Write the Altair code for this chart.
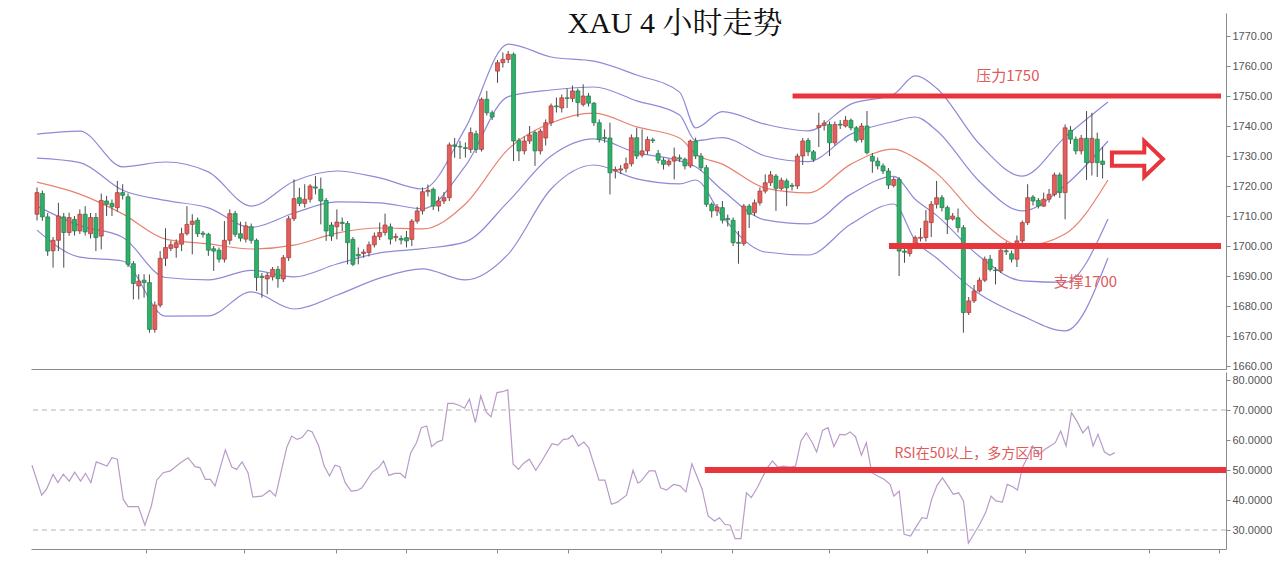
import altair as alt
import pandas as pd

# ---------------- candle data (4h XAU) ----------------
opens = [
    1710.6, 1717.5, 1709.7, 1698.4, 1701.9, 1709.7, 1704.5, 1708.9, 1705.0, 1710.6,
    1704.1, 1709.5, 1703.3, 1715.0, 1714.2, 1712.8, 1717.8, 1716.4, 1694.1, 1686.7,
    1688.6, 1687.8, 1672.2, 1680.3, 1695.9, 1699.2, 1699.5, 1700.6, 1704.1, 1707.2,
    1708.6, 1704.3, 1703.9, 1699.1, 1698.6, 1695.6, 1701.9, 1710.8, 1704.1, 1702.3,
    1706.4, 1701.9, 1689.9, 1689.0, 1689.7, 1692.2, 1689.0, 1696.1, 1709.1, 1716.1,
    1714.2, 1715.6, 1719.7, 1718.9, 1715.2, 1707.0, 1706.4, 1707.9, 1707.5, 1702.2,
    1697.2, 1697.5, 1697.8, 1700.4, 1703.1, 1704.5, 1706.4, 1702.8, 1702.5, 1702.8,
    1702.2, 1708.3, 1711.7, 1718.1, 1718.9, 1713.3, 1715.0, 1716.1, 1733.7, 1733.2,
    1732.8, 1732.2, 1737.4, 1732.2, 1748.9, 1744.4, 1758.3, 1761.1, 1762.2, 1763.9,
    1735.2, 1731.7, 1735.0, 1737.8, 1731.7, 1736.0, 1741.1, 1746.7, 1746.0, 1749.4,
    1749.2, 1751.7, 1747.2, 1750.0, 1747.6, 1741.1, 1736.2, 1736.0, 1725.0, 1725.3,
    1725.9, 1727.4, 1736.1, 1730.3, 1731.7, 1735.4, 1730.8, 1728.6, 1727.2, 1728.3,
    1729.4, 1728.9, 1726.7, 1735.0, 1730.0, 1726.1, 1713.9, 1711.7, 1712.8, 1709.2,
    1708.6, 1701.2, 1700.8, 1713.3, 1711.1, 1714.4, 1718.3, 1721.1, 1723.3, 1719.2,
    1721.7, 1720.2, 1720.0, 1730.0, 1735.2, 1731.4, 1739.5, 1740.2, 1740.5, 1734.4,
    1740.6, 1740.0, 1741.9, 1739.4, 1735.5, 1740.0, 1729.9, 1728.3, 1726.7, 1725.0,
    1720.2, 1722.2, 1698.3, 1697.5, 1700.6, 1702.6, 1702.8, 1707.8, 1713.9, 1716.1,
    1712.8, 1709.0, 1709.4, 1706.1, 1677.8, 1681.7, 1685.0, 1688.6, 1695.6, 1692.0,
    1691.7, 1698.4, 1697.4, 1695.6, 1701.7, 1707.8, 1716.3, 1715.2, 1713.3, 1715.6,
    1717.2, 1723.7, 1717.8, 1738.6, 1735.6, 1731.7, 1735.9, 1727.8, 1735.6, 1728.3,
]
highs = [
    1719.5, 1718.5, 1711.0, 1703.0, 1714.4, 1711.0, 1711.1, 1710.0, 1712.2, 1713.3,
    1711.0, 1711.0, 1717.5, 1716.7, 1715.5, 1721.7, 1720.6, 1717.5, 1695.0, 1690.6,
    1690.6, 1690.5, 1681.5, 1698.3, 1705.9, 1701.7, 1702.2, 1706.1, 1713.3, 1710.6,
    1709.5, 1705.0, 1704.4, 1700.0, 1699.5, 1708.3, 1712.2, 1711.7, 1708.1, 1708.1,
    1707.5, 1702.5, 1691.0, 1691.1, 1693.0, 1693.3, 1697.0, 1710.0, 1722.2, 1719.4,
    1720.6, 1720.6, 1723.3, 1722.8, 1716.0, 1708.0, 1712.2, 1709.5, 1708.3, 1703.0,
    1699.5, 1698.9, 1701.5, 1704.5, 1707.8, 1710.8, 1707.5, 1704.2, 1703.5, 1705.0,
    1709.0, 1713.0, 1719.5, 1720.5, 1719.5, 1716.5, 1718.0, 1734.5, 1736.0, 1735.0,
    1734.5, 1739.5, 1738.5, 1749.5, 1751.7, 1745.2, 1762.0, 1764.5, 1765.0, 1764.5,
    1736.0, 1736.5, 1740.0, 1738.5, 1739.0, 1742.2, 1747.5, 1749.5, 1750.5, 1752.5,
    1753.5, 1752.5, 1753.9, 1751.0, 1748.0, 1742.2, 1738.9, 1741.1, 1726.5, 1727.0,
    1729.5, 1737.2, 1739.4, 1738.9, 1736.5, 1736.1, 1732.0, 1729.5, 1729.0, 1732.8,
    1730.5, 1729.5, 1735.5, 1736.1, 1731.0, 1727.0, 1714.5, 1714.0, 1715.0, 1710.5,
    1709.5, 1705.0, 1714.0, 1714.0, 1715.5, 1719.5, 1723.9, 1725.0, 1724.0, 1722.8,
    1722.5, 1721.0, 1730.8, 1736.0, 1736.0, 1732.0, 1744.4, 1742.0, 1741.5, 1741.5,
    1742.0, 1743.3, 1742.5, 1740.0, 1741.0, 1745.0, 1731.0, 1729.5, 1727.5, 1726.0,
    1723.0, 1723.0, 1700.0, 1700.5, 1703.5, 1706.0, 1712.0, 1715.0, 1721.7, 1717.0,
    1713.5, 1711.0, 1712.5, 1707.0, 1683.0, 1687.0, 1689.5, 1696.5, 1697.0, 1693.0,
    1699.5, 1701.5, 1698.5, 1703.5, 1708.5, 1720.6, 1717.0, 1716.0, 1717.8, 1719.0,
    1724.5, 1724.5, 1740.5, 1740.0, 1736.5, 1737.0, 1745.0, 1744.4, 1737.8, 1733.0,
]
lows = [
    1708.5, 1708.4, 1696.7, 1692.8, 1698.3, 1692.8, 1703.4, 1703.5, 1704.0, 1703.5,
    1702.5, 1698.3, 1698.9, 1710.0, 1710.0, 1711.5, 1715.5, 1693.0, 1682.2, 1682.2,
    1682.8, 1671.1, 1671.1, 1679.5, 1693.3, 1698.3, 1696.1, 1698.3, 1703.5, 1697.2,
    1703.0, 1702.8, 1696.7, 1691.7, 1694.5, 1694.5, 1700.5, 1703.0, 1701.5, 1701.2,
    1700.8, 1685.0, 1682.8, 1683.9, 1688.5, 1686.1, 1688.0, 1695.0, 1708.3, 1713.3,
    1712.8, 1714.5, 1717.2, 1707.2, 1701.7, 1701.7, 1702.2, 1705.0, 1693.9, 1693.3,
    1693.9, 1696.1, 1696.5, 1699.5, 1702.0, 1703.5, 1700.5, 1701.5, 1700.5, 1699.5,
    1700.0, 1707.5, 1710.5, 1716.5, 1712.0, 1711.5, 1714.0, 1715.0, 1729.4, 1729.0,
    1729.5, 1731.0, 1731.0, 1731.5, 1743.5, 1742.0, 1754.4, 1759.5, 1761.0, 1728.3,
    1728.3, 1730.5, 1734.0, 1726.7, 1730.5, 1733.5, 1740.0, 1744.5, 1744.5, 1746.0,
    1748.0, 1743.0, 1746.5, 1746.5, 1740.0, 1734.5, 1734.4, 1717.2, 1722.5, 1724.0,
    1724.5, 1726.5, 1729.0, 1729.5, 1730.5, 1734.3, 1727.5, 1725.5, 1726.5, 1722.2,
    1728.0, 1725.5, 1726.0, 1729.0, 1725.0, 1713.0, 1709.5, 1710.0, 1707.5, 1706.5,
    1700.0, 1694.1, 1700.0, 1706.0, 1710.0, 1713.5, 1717.5, 1720.0, 1711.7, 1718.5,
    1713.3, 1718.5, 1719.0, 1727.0, 1730.0, 1728.0, 1733.0, 1738.5, 1730.0, 1733.5,
    1739.0, 1739.5, 1738.5, 1734.5, 1734.5, 1730.5, 1724.4, 1725.5, 1724.0, 1719.0,
    1719.5, 1690.0, 1694.4, 1696.5, 1699.5, 1701.5, 1701.5, 1703.0, 1712.5, 1711.5,
    1704.0, 1708.5, 1704.5, 1671.1, 1677.0, 1681.0, 1684.5, 1688.0, 1691.5, 1687.2,
    1691.0, 1697.0, 1694.5, 1693.0, 1701.0, 1707.0, 1713.5, 1712.5, 1713.0, 1714.5,
    1716.5, 1716.0, 1708.9, 1734.0, 1730.5, 1730.5, 1722.0, 1723.5, 1723.0, 1722.5,
]
closes = [
    1717.8, 1709.7, 1698.3, 1701.9, 1710.0, 1704.5, 1709.5, 1705.0, 1710.6, 1704.7,
    1709.5, 1702.8, 1715.2, 1713.9, 1713.1, 1717.8, 1716.9, 1693.9, 1687.5, 1688.3,
    1687.8, 1672.2, 1680.3, 1695.9, 1699.5, 1700.4, 1701.1, 1704.1, 1707.2, 1708.3,
    1704.1, 1703.9, 1698.6, 1698.3, 1695.6, 1701.9, 1710.8, 1703.9, 1702.6, 1706.7,
    1701.9, 1689.5, 1689.5, 1690.2, 1692.2, 1689.1, 1696.1, 1709.1, 1715.8, 1714.2,
    1715.6, 1720.0, 1719.3, 1715.0, 1705.0, 1703.3, 1708.0, 1707.5, 1701.1, 1693.9,
    1696.7, 1698.0, 1700.4, 1703.3, 1704.5, 1707.0, 1702.3, 1703.2, 1702.0, 1701.7,
    1708.3, 1711.7, 1718.1, 1718.6, 1713.3, 1715.0, 1716.1, 1733.7, 1733.2, 1733.0,
    1732.5, 1737.8, 1732.2, 1748.9, 1744.4, 1743.0, 1761.1, 1762.2, 1763.9, 1735.0,
    1731.7, 1735.0, 1737.0, 1731.7, 1738.3, 1741.1, 1746.7, 1746.4, 1749.4, 1749.2,
    1751.7, 1747.8, 1750.0, 1747.6, 1741.1, 1735.5, 1735.8, 1724.4, 1725.5, 1725.7,
    1727.4, 1736.1, 1730.0, 1731.7, 1735.5, 1735.1, 1728.6, 1727.2, 1728.3, 1729.7,
    1729.0, 1726.7, 1735.0, 1730.0, 1726.1, 1713.9, 1711.7, 1713.0, 1708.6, 1708.8,
    1701.1, 1700.9, 1713.3, 1710.6, 1714.4, 1718.3, 1721.1, 1723.7, 1719.2, 1721.9,
    1719.4, 1719.9, 1730.0, 1735.0, 1731.4, 1728.9, 1740.2, 1741.0, 1734.4, 1740.5,
    1740.3, 1741.9, 1739.4, 1735.2, 1740.0, 1731.1, 1728.3, 1726.7, 1725.0, 1720.3,
    1722.2, 1698.3, 1697.9, 1699.4, 1702.8, 1702.9, 1708.3, 1713.9, 1716.1, 1712.8,
    1708.9, 1710.0, 1706.1, 1677.8, 1681.7, 1685.0, 1688.6, 1695.6, 1692.2, 1691.8,
    1698.6, 1698.1, 1695.6, 1701.7, 1707.8, 1716.1, 1715.0, 1713.3, 1715.6, 1717.2,
    1723.7, 1717.8, 1739.4, 1735.6, 1731.7, 1735.9, 1727.8, 1735.9, 1727.8, 1727.2,
]

# ---------------- Bollinger bands (read at sample candles) ----------------
band_idx = [1, 9, 17, 25, 33, 41, 49, 57, 65, 73, 81, 89, 97, 105, 113, 121, 124,
            129, 137, 145, 153, 161, 165, 169, 177, 185, 193, 201]
band_outer_up = [1737.3, 1738.3, 1726.4, 1728.0, 1724.7, 1713.3, 1721.6, 1725.0, 1722.7,
                 1719.0, 1739.3, 1767.3, 1763.0, 1761.6, 1757.0, 1751.3, 1739.4, 1744.8,
                 1740.6, 1738.4, 1747.3, 1750.6, 1756.7, 1752.6, 1734.0, 1723.3, 1736.3, 1748.0]
band_inner_up = [1729.3, 1727.8, 1718.6, 1715.2, 1712.7, 1706.2, 1711.0, 1714.7, 1714.4,
                 1712.4, 1726.7, 1749.8, 1752.0, 1753.0, 1748.4, 1743.7, 1735.1, 1736.1,
                 1730.0, 1728.1, 1737.3, 1741.5, 1743.0, 1738.5, 1721.5, 1711.7, 1720.2, 1735.0]
band_mid = [1721.3, 1717.3, 1710.7, 1702.3, 1700.7, 1699.0, 1700.3, 1704.3, 1706.0,
            1705.7, 1714.0, 1732.3, 1741.0, 1744.3, 1739.7, 1736.0, 1730.7, 1727.3,
            1719.3, 1717.7, 1727.3, 1732.3, 1729.3, 1724.3, 1709.0, 1700.0, 1704.0, 1722.0]
band_inner_dn = [1713.3, 1706.8, 1702.9, 1689.5, 1688.7, 1691.9, 1689.7, 1694.0, 1697.7,
                 1699.1, 1701.4, 1714.8, 1730.0, 1735.7, 1731.1, 1728.4, 1726.4, 1718.6,
                 1708.7, 1707.4, 1717.3, 1723.2, 1715.6, 1710.2, 1696.5, 1688.4, 1687.9, 1709.0]
band_outer_dn = [1705.3, 1696.3, 1695.0, 1676.6, 1676.7, 1684.7, 1679.0, 1683.6, 1689.3,
                 1692.4, 1688.7, 1697.3, 1719.0, 1727.0, 1722.4, 1720.7, 1722.0, 1709.8,
                 1698.0, 1697.0, 1707.3, 1714.0, 1701.9, 1696.0, 1684.0, 1676.7, 1671.7, 1696.0]

# ---------------- RSI ----------------
rsi_pos = [1, 2.8, 3.7, 4.9, 5.8, 6.8, 7.9, 8.9, 10.0, 10.9, 11.9, 12.9, 14.9, 15.8, 16.8,
           17.9, 18.8, 20.7, 21.9, 23.1, 24.1, 25.3, 26.6, 28.5, 29.9, 31.2, 32.1, 33.1,
           34.0, 34.9, 36.8, 38.0, 38.9, 39.9, 41.0, 41.9, 43.6, 45.0, 46.1, 48.2, 49.1,
           50.1, 51.0, 52.1, 52.9, 54.1, 55.1, 56.1, 57.1, 58.0, 59.0, 60.1, 61.2, 62.1,
           64.0, 65.2, 66.1, 67.1, 68.2, 69.2, 70.1, 71.1, 72.2, 73.1, 74.1, 75.0, 76.0,
           77.0, 78.0, 79.0, 80.1, 81.1, 82.0, 83.1, 84.1, 85.1, 86.0, 87.1, 88.1, 89.1,
           90.1, 91.1, 92.0, 93.1, 94.3, 95.4, 97.3, 98.4, 99.4, 100.3, 101.1, 102.2,
           103.2, 104.1, 106.0, 107.1, 108.3, 109.4, 111.1, 112.3, 113.2,
           113.8, 115.3, 116.4, 117.4, 118.5, 119.8, 121.0, 122.1, 123.2, 125.1, 126.2,
           127.4, 128.3, 129.3, 130.3, 131.2, 132.3, 133.3, 134.2, 135.3, 136.4, 137.2,
           138.1, 139.1, 140.2, 141.4, 142.4, 143.4, 144.4, 145.5, 146.3, 147.4, 148.4,
           149.5, 150.6, 151.6, 152.5, 153.5, 154.6, 155.5, 156.5, 157.6, 158.8, 159.9,
           160.6, 161.6, 162.5, 163.7, 164.8, 165.8, 166.7, 167.6, 168.6, 169.6, 170.6,
           171.6, 172.6, 173.5, 174.4, 175.4, 176.5, 177.6, 178.6, 179.5, 180.7, 181.6,
           182.6, 183.5, 184.4, 185.4, 186.3, 187.5, 188.6, 189.7, 190.5, 191.5, 192.5,
           193.5, 194.5, 195.6, 196.6, 197.5, 198.4, 199.6, 200.6, 201.5]
rsi_val = [51.6, 41.6, 43.6, 48.6, 45.8, 48.6, 46.3, 49.3, 46.3, 48.9, 45.8, 52.7, 51.3,
           54.1, 53.6, 40.2, 37.8, 37.8, 31.6, 38.0, 46.6, 49.1, 49.7, 52.4, 54.1, 51.1,
           50.8, 46.9, 46.9, 44.7, 56.7, 51.0, 50.2, 52.7, 49.1, 41.0, 41.3, 43.2, 41.3,
           57.7, 61.3, 60.2, 60.8, 63.3, 62.7, 58.0, 51.3, 48.0, 51.6, 51.1, 45.8, 43.0,
           43.2, 44.1, 49.3, 50.8, 53.0, 48.2, 48.9, 48.9, 47.4, 55.6, 59.1, 64.1, 64.7,
           57.8, 59.3, 60.0, 72.2, 72.2, 71.6, 70.6, 73.6, 65.8, 74.7, 69.4, 67.7, 75.8,
           76.1, 76.7, 51.9, 50.2, 52.2, 53.6, 49.9, 53.0, 58.8, 58.3, 60.2, 60.4, 61.6,
           58.0, 59.3, 57.4, 46.6, 46.6, 38.6, 39.3, 41.6, 49.9, 45.6,
           46.3, 49.7, 49.7, 44.1, 43.3, 45.2, 44.7, 42.7, 52.1, 43.6, 34.7, 33.0, 34.1,
           31.9, 31.6, 27.1, 27.1, 42.4, 40.8, 44.1, 48.0, 50.8, 53.0, 51.0, 51.3, 51.0,
           51.3, 59.7, 62.4, 59.1, 56.0, 63.2, 64.1, 57.8, 61.9, 61.7, 62.7, 61.1, 54.9,
           59.1, 49.1, 48.0, 46.9, 45.2, 41.3, 43.0, 28.6, 28.0, 31.3, 34.1, 33.8, 40.2,
           44.9, 47.4, 44.7, 41.9, 42.4, 39.7, 25.6, 28.6, 31.9, 35.8, 41.3, 39.7, 39.3,
           45.2, 44.4, 43.3, 50.8, 54.4, 58.0, 55.2, 56.9, 58.2, 59.1, 63.0, 58.0, 69.1,
           66.3, 62.4, 64.5, 58.0, 61.9, 56.0, 54.9, 55.8]

price_ticks = [1660, 1670, 1680, 1690, 1700, 1710, 1720, 1730, 1740, 1750, 1760, 1770]
rsi_ticks = [30, 40, 50, 60, 70, 80]
session_ticks = [22.1, 40.3, 57.3, 70.3, 87.1, 100.3, 117.5, 130.6, 148.6, 166.7,
                 184.9, 207.9, 220.8]

# annotations
levels = [1750, 1700]
level_start = [142.1, 160.1]
level_width = [5, 6]
rsi_level = 50
rsi_level_start = 125.6

# ---------------- build ----------------
X0, X1 = 0.815, 222.11
xs = alt.Scale(domain=[X0, X1], nice=False, zero=False)
ps = alt.Scale(domain=[1659.0, 1777.67], nice=False, zero=False)
rs = alt.Scale(domain=[23.67, 82.67], nice=False, zero=False)

RED = "#e8353b"
LABEL_RED = "#e05a5a"
W = 1195

x_axis_top = alt.Axis(labels=False, ticks=False, domain=True, domainColor="#8a8a8a",
                      grid=False, title=None)
x_axis_bot = alt.Axis(values=session_ticks, labels=False, ticks=True, tickSize=4,
                      tickColor="#8a8a8a", domain=True, domainColor="#8a8a8a",
                      grid=False, title=None)
y_axis_p = alt.Axis(orient="right", values=price_ticks, format=".2f", grid=False,
                    title=None, labelFont="Liberation Sans", labelFontSize=11,
                    labelColor="#555555", tickColor="#8a8a8a", tickSize=4,
                    domainColor="#8a8a8a", labelPadding=2)
y_axis_r = alt.Axis(orient="right", values=rsi_ticks, format=".4f", grid=False,
                    title=None, labelFont="Liberation Sans", labelFontSize=11,
                    labelColor="#555555", tickColor="#8a8a8a", tickSize=4,
                    domainColor="#8a8a8a", labelPadding=2)

cdf = pd.DataFrame({"i": list(range(1, len(closes) + 1)), "open": opens, "high": highs,
                    "low": lows, "close": closes})
cdf["dir"] = ["up" if c >= o else "down" for o, c in zip(opens, closes)]

rows = []
for name, vals in [("ou", band_outer_up), ("iu", band_inner_up), ("mid", band_mid),
                   ("il", band_inner_dn), ("ol", band_outer_dn)]:
    for i, v in zip(band_idx, vals):
        rows.append({"i": i, "v": v, "band": name})
bdf = pd.DataFrame(rows)

band_layer = alt.Chart(bdf).mark_line(strokeWidth=1.2, clip=True, interpolate="monotone").encode(
    x=alt.X("i:Q", scale=xs, axis=x_axis_top),
    y=alt.Y("v:Q", scale=ps, axis=y_axis_p),
    color=alt.Color("band:N", legend=None,
                    scale=alt.Scale(domain=["ou", "iu", "mid", "il", "ol"],
                                    range=["#8d8ad8", "#8d8ad8", "#e8826f", "#8d8ad8", "#8d8ad8"])),
    detail="band:N",
)

wick_layer = alt.Chart(cdf).mark_rule(color="#4a4a4a", strokeWidth=1, clip=True).encode(
    x=alt.X("i:Q", scale=xs, axis=x_axis_top),
    y=alt.Y("low:Q", scale=ps, axis=y_axis_p),
    y2="high:Q",
)

body_layer = alt.Chart(cdf).mark_bar(size=4, strokeWidth=0.7, clip=True).encode(
    x=alt.X("i:Q", scale=xs, axis=x_axis_top),
    y=alt.Y("open:Q", scale=ps, axis=y_axis_p),
    y2="close:Q",
    fill=alt.Fill("dir:N", legend=None,
                  scale=alt.Scale(domain=["up", "down"], range=["#e35f5b", "#2fb06a"])),
    stroke=alt.Stroke("dir:N", legend=None,
                      scale=alt.Scale(domain=["up", "down"], range=["#a83a36", "#1f7d4a"])),
)

ldf = pd.DataFrame({"x0": level_start, "x1": [X1, X1], "y": levels, "w": level_width})
level_layer = alt.Chart(ldf).mark_rule(color=RED).encode(
    x=alt.X("x0:Q", scale=xs, axis=x_axis_top),
    x2="x1:Q",
    y=alt.Y("y:Q", scale=ps, axis=y_axis_p),
    strokeWidth=alt.StrokeWidth("w:Q", scale=None),
)

tdf = pd.DataFrame({"i": [182.3, 196.8], "p": [1756.7, 1688.0],
                    "t": ["压力1750", "支撑1700"]})
text_layer = alt.Chart(tdf).mark_text(font="Noto Sans CJK SC", fontSize=15,
                                      color=LABEL_RED, baseline="middle").encode(
    x=alt.X("i:Q", scale=xs, axis=x_axis_top),
    y=alt.Y("p:Q", scale=ps, axis=y_axis_p),
    text="t:N",
)

arrow_path = "M-1,-0.26 L0.27,-0.26 L0.27,-0.7 L1,0 L0.27,0.7 L0.27,0.26 L-1,0.26 Z"
adf = pd.DataFrame({"i": [206.5], "p": [1729.0]})
arrow_layer = alt.Chart(adf).mark_point(shape=arrow_path, size=2601, filled=True,
                                        fill="white", fillOpacity=1, stroke=RED,
                                        strokeWidth=4, strokeOpacity=1,
                                        strokeJoin="miter").encode(
    x=alt.X("i:Q", scale=xs, axis=x_axis_top),
    y=alt.Y("p:Q", scale=ps, axis=y_axis_p),
)

title_layer = alt.Chart(pd.DataFrame({"t": ["XAU 4 小时走势"]})).mark_text(
    font="Liberation Serif, Noto Serif CJK SC, Noto Sans CJK SC", fontSize=30,
    color="#111111", baseline="middle", align="center").encode(
    x=alt.value(644), y=alt.value(11), text="t:N")

price = alt.layer(band_layer, wick_layer, body_layer, level_layer, text_layer,
                  arrow_layer, title_layer).properties(width=W, height=356)

# RSI panel
m = min(len(rsi_pos), len(rsi_val))
rdf = pd.DataFrame({"i": rsi_pos[:m], "v": rsi_val[:m]})
dash_layer = alt.Chart(pd.DataFrame({"v": [70, 30]})).mark_rule(
    color="#b4b4b4", strokeWidth=1, strokeDash=[5, 4]).encode(
    y=alt.Y("v:Q", scale=rs, axis=y_axis_r))
rsi_line = alt.Chart(rdf).mark_line(color="#b99bc9", strokeWidth=1.2, clip=True).encode(
    x=alt.X("i:Q", scale=xs, axis=x_axis_bot),
    y=alt.Y("v:Q", scale=rs, axis=y_axis_r),
)
rsi_lvl = alt.Chart(pd.DataFrame({"x0": [rsi_level_start], "x1": [X1], "y": [rsi_level]})).mark_rule(
    color=RED, strokeWidth=6).encode(
    x=alt.X("x0:Q", scale=xs, axis=x_axis_bot), x2="x1:Q",
    y=alt.Y("y:Q", scale=rs, axis=y_axis_r))
rsi_text = alt.Chart(pd.DataFrame({"i": [174.5], "v": [55.3],
                                   "t": ["RSI在50以上，多方区间"]})).mark_text(
    font="Noto Sans CJK SC", fontSize=14, color=LABEL_RED, baseline="middle").encode(
    x=alt.X("i:Q", scale=xs, axis=x_axis_bot),
    y=alt.Y("v:Q", scale=rs, axis=y_axis_r),
    text="t:N")

rsi = alt.layer(dash_layer, rsi_line, rsi_lvl, rsi_text).properties(width=W, height=177)

chart = alt.vconcat(price, rsi, spacing=0).properties(
    padding={"left": 22, "top": 1, "right": 0, "bottom": 0},
    background="white",
).configure_view(stroke=None)

chart.save("out.html", embed_options={"renderer": "svg", "actions": False})
